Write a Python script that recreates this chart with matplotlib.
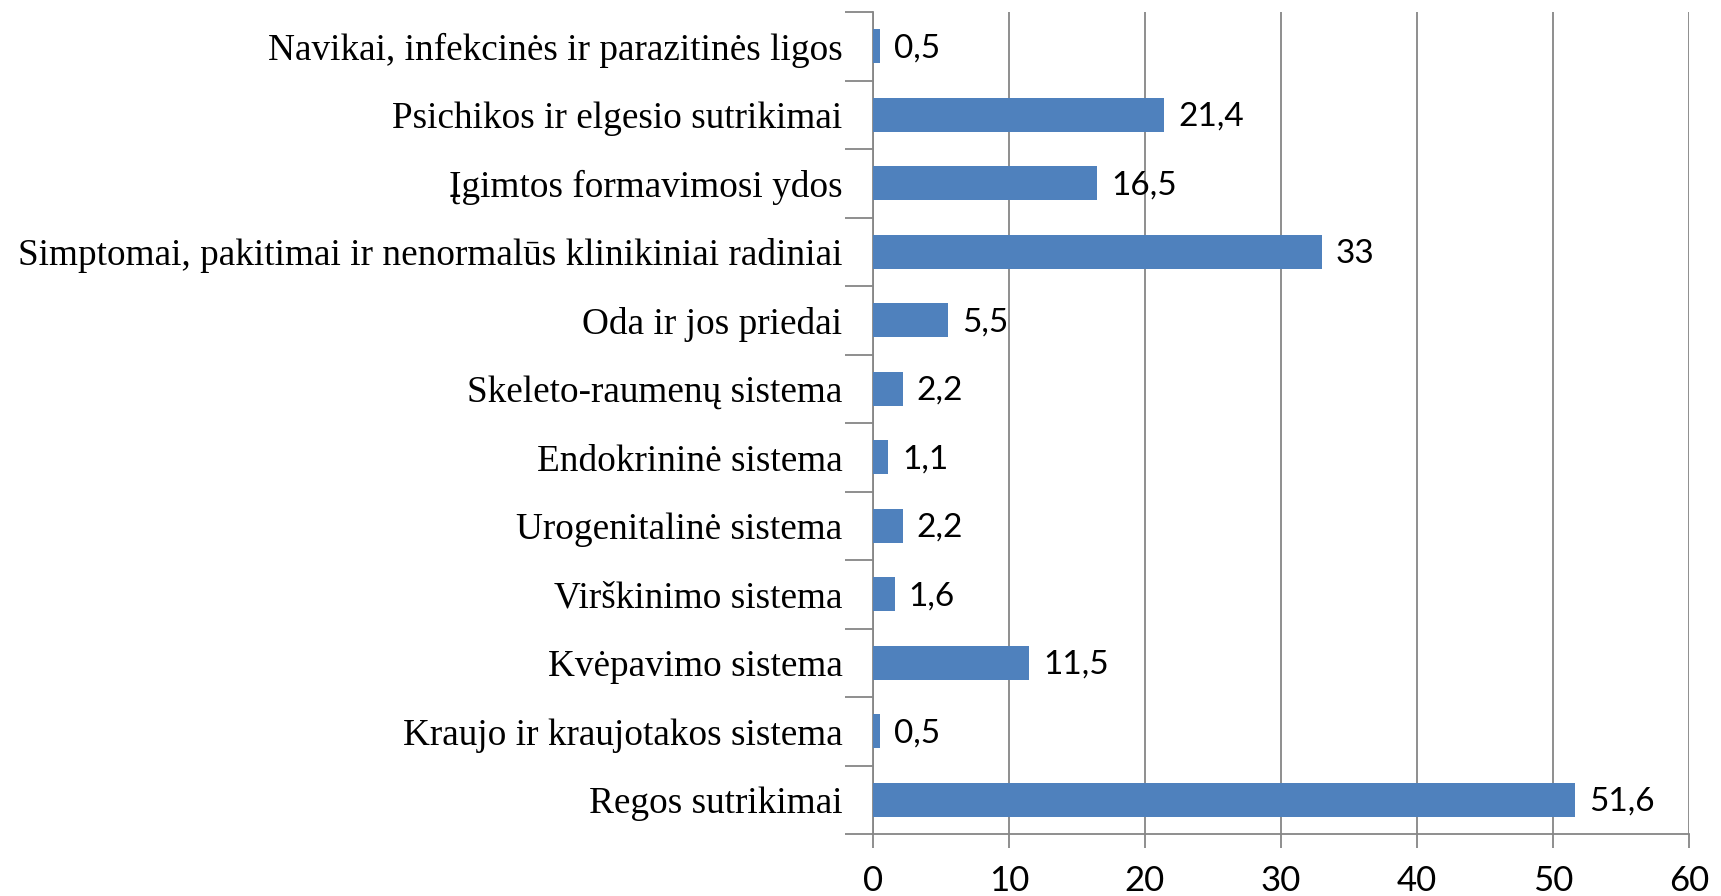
import matplotlib
matplotlib.use("Agg")
import matplotlib.pyplot as plt

categories = [
    "Regos sutrikimai",
    "Kraujo ir kraujotakos sistema",
    "Kvėpavimo sistema",
    "Virškinimo sistema",
    "Urogenitalinė sistema",
    "Endokrininė sistema",
    "Skeleto-raumenų sistema",
    "Oda ir jos priedai",
    "Simptomai, pakitimai ir nenormalūs klinikiniai radiniai",
    "Įgimtos formavimosi ydos",
    "Psichikos ir elgesio sutrikimai",
    "Navikai, infekcinės ir parazitinės ligos",
]
values = [51.6, 0.5, 11.5, 1.6, 2.2, 1.1, 2.2, 5.5, 33, 16.5, 21.4, 0.5]
value_labels = ["51,6", "0,5", "11,5", "1,6", "2,2", "1,1", "2,2", "5,5", "33", "16,5", "21,4", "0,5"]
xticks = [0, 10, 20, 30, 40, 50, 60]

fig = plt.figure(figsize=(17.21, 8.96), dpi=100)
ax = fig.add_axes([873/1721, 1-834/896, (1689-873)/1721, (834-12)/896])

pos = list(range(len(categories)))
ax.barh(pos, values, height=0.5, color="#4F81BD", zorder=3)
for p, v, t in zip(pos, values, value_labels):
    ax.annotate(t, (v, p), xytext=(10, -1.5), textcoords="offset points",
                va="center", ha="left", fontsize=24, family="Lato", color="black")

ax.set_xlim(0, 60)
ax.set_ylim(-0.5, len(categories) - 0.5)
ax.set_xticks(xticks)
ax.set_xticklabels([str(x) for x in xticks], fontsize=25, family="Lato")
ax.set_yticks(pos)
ax.set_yticklabels(categories, fontsize=26.8, family="Liberation Serif")
ax.tick_params(axis="y", length=0, pad=22)
ax.set_yticks([p - 0.5 for p in pos] + [len(pos) - 0.5], minor=True)
ax.tick_params(axis="y", which="minor", length=20, width=1.3, color="#868686")
ax.tick_params(axis="x", length=10, width=1.3, color="#868686", pad=12)

ax.grid(axis="x", color="#868686", linewidth=1.3, zorder=0)
for s in ["top", "right"]:
    ax.spines[s].set_visible(False)
for s in ["left", "bottom"]:
    ax.spines[s].set_color("#868686")
    ax.spines[s].set_linewidth(1.3)

fig.savefig("out.png", dpi=100)
